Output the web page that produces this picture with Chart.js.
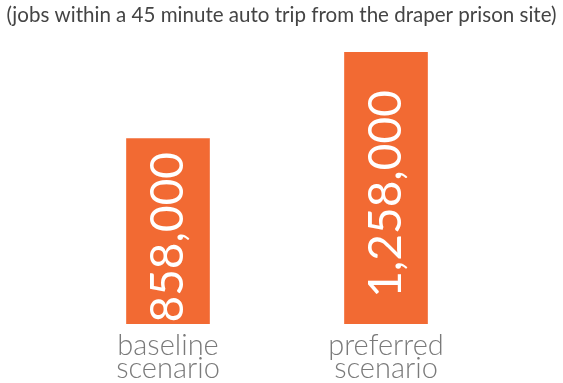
<!DOCTYPE html>
<html>
<head>
<meta charset="utf-8">
<script src="https://cdn.jsdelivr.net/npm/chart.js@4.4.1/dist/chart.umd.min.js"></script>
<style>
  html, body { margin: 0; padding: 0; background: #fff; }
  #wrap { width: 563px; height: 383px; }
</style>
</head>
<body>
<div id="wrap"><canvas id="jobs-chart" width="563" height="383"></canvas></div>
<script>
const scenarios = [['baseline', 'scenario'], ['preferred', 'scenario']];
const jobs = [858000, 1258000];
const subtitle = '(jobs within a 45 minute auto trip from the draper prison site)';

// subtitle across the full canvas width (the built-in title is squeezed by side padding)
const heading = {
  id: 'heading',
  afterDraw(chart) {
    const c = chart.ctx;
    c.save();
    c.fillStyle = '#444444';
    c.font = '21px Lato';
    c.textAlign = 'center';
    c.textBaseline = 'middle';
    c.fillText(subtitle, chart.width / 2, 15, 550);
    c.restore();
  }
};

// white rotated number inside each bar
const barValues = {
  id: 'barValues',
  afterDatasetsDraw(chart) {
    const c = chart.ctx;
    const meta = chart.getDatasetMeta(0);
    c.save();
    c.fillStyle = '#ffffff';
    c.font = '46px Lato';
    c.textAlign = 'center';
    c.textBaseline = 'middle';
    meta.data.forEach((bar, i) => {
      const mid = (bar.y + bar.base) / 2 + 6;
      c.save();
      c.translate(bar.x, mid);
      c.rotate(-Math.PI / 2);
      c.fillText(jobs[i].toLocaleString('en-US'), 0, 0);
      c.restore();
    });
    c.restore();
  }
};

new Chart(document.getElementById('jobs-chart'), {
  type: 'bar',
  data: {
    labels: scenarios,
    datasets: [{
      data: jobs,
      backgroundColor: '#f26a33',
      barThickness: 83
    }]
  },
  options: {
    responsive: false,
    animation: false,
    layout: { padding: { top: 52, left: 59, right: 68, bottom: 0 } },
    scales: {
      x: {
        grid: { display: false, drawTicks: false },
        border: { display: false },
        afterFit(scale) { scale.height = 59; },
        ticks: {
          color: '#7a7a7a',
          padding: 10,
          font: { family: 'Lato', size: 29, weight: 300, lineHeight: 0.79 }
        }
      },
      y: {
        display: false,
        min: 0,
        max: 1258000
      }
    },
    plugins: {
      legend: { display: false },
      tooltip: { enabled: false },
      title: { display: false }
    }
  },
  plugins: [barValues, heading]
});
</script>
</body>
</html>
